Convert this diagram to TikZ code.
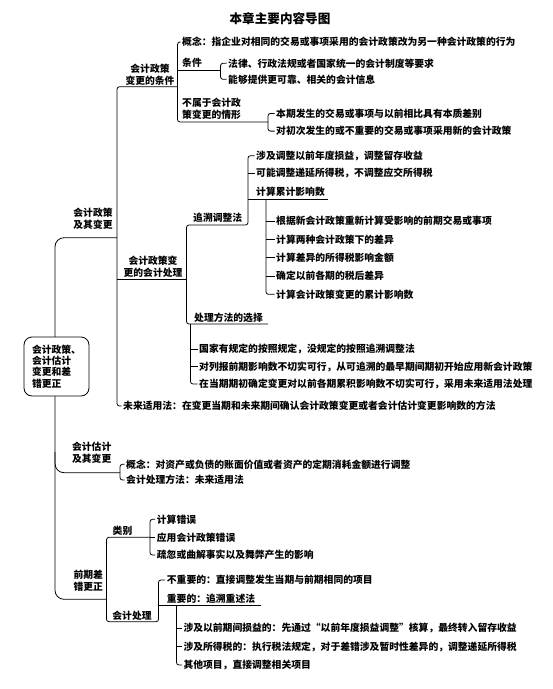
\documentclass[tikz,border=0pt]{standalone}
\usepackage{fontspec}
\setmainfont{Noto Sans CJK SC}
\begin{document}
\begin{tikzpicture}[x=1pt,y=-1pt,
  ln/.style={line width=0.8pt, rounded corners=2.5pt},
  bigln/.style={line width=0.8pt, rounded corners=9pt},
  txt/.style={anchor=west, inner sep=0pt, font=\fontsize{9.8}{12}\selectfont\bfseries},
  ctr/.style={align=center, inner sep=0pt, font=\fontsize{9.8}{12}\selectfont\bfseries},
  lft/.style={align=left, anchor=west, inner sep=0pt, font=\fontsize{9.8}{12}\selectfont\bfseries},
  ttl/.style={inner sep=0pt, font=\fontsize{12.6}{14}\selectfont\bfseries},
  rootbox/.style={draw, line width=0.8pt, fill=white, rounded corners=8pt, align=left,
     minimum width=65pt, minimum height=59pt, inner xsep=8pt,
     font=\fontsize{9.8}{11.3}\selectfont\bfseries}]
\useasboundingbox (0,0) rectangle (553,689);

% vertical guide coordinates
\coordinate (V0) at (55,0);
\coordinate (V1) at (117,0);
\coordinate (V2) at (177.5,0);
\coordinate (V3) at (220.5,0);
\coordinate (V4) at (268,0);
\coordinate (V5) at (186.5,0);
\coordinate (V6) at (248,0);
\coordinate (V7) at (266,0);
\coordinate (V8) at (190.5,0);
\coordinate (V9) at (120,0);
\coordinate (V10) at (106.5,0);
\coordinate (V11) at (150,0);
\coordinate (V12) at (158.5,0);
\coordinate (V13) at (176.5,0);

% underline end points
\coordinate (uA1) at (117,86.7);   \coordinate (uA2) at (177.5,86.7);
\coordinate (uT1) at (177.5,70);   \coordinate (uT2) at (220.5,70);
\coordinate (uB2) at (268,122);
\coordinate (uP1) at (117,279);    \coordinate (uP2) at (186.5,279);
\coordinate (uZ1) at (186.5,225);  \coordinate (uZ2) at (248,225);
\coordinate (uJ1) at (248,199.3);  \coordinate (uJ2) at (328,199.3);
\coordinate (uC1) at (186.5,324);  \coordinate (uC2) at (268,324);
\coordinate (u11) at (55,237.7);   \coordinate (u12) at (117,237.7);
\coordinate (u2t) at (55,452);     \coordinate (u21) at (55,472.7);  \coordinate (u22) at (120,472.7);
\coordinate (u31) at (55,599.3);   \coordinate (u32) at (106.5,599.3);
\coordinate (uL1) at (106.5,537.3); \coordinate (uL2) at (150,537.3);
\coordinate (uK1) at (106.5,621.7); \coordinate (uK2) at (158.5,621.7);
\coordinate (uN1) at (158.5,605);  \coordinate (uN2) at (261,605);

% title
\node[ttl] (title) at (280,19) {本章主要内容导图};

% branch 1
\node[ctr] (a1) at (150,74.7) {会计政策\\变更的条件};
\node[txt] (gn) at (182,42) {概念：指企业对相同的交易或事项采用的会计政策改为另一种会计政策的行为};
\node[txt] (tj) at (182,63) {条件};
\node[txt] (f1) at (228,63.3) {法律、行政法规或者国家统一的会计制度等要求};
\node[txt] (f2) at (228,79.3) {能够提供更可靠、相关的会计信息};
\node[lft] (bs) at (182,109) {不属于会计政\\策变更的情形};
\node[txt] (g1) at (276,113.4) {本期发生的交易或事项与以前相比具有本质差别};
\node[txt] (g2) at (276,131.1) {对初次发生的或不重要的交易或事项采用新的会计政策};

\node[ctr] (b1) at (93,218.5) {会计政策\\及其变更};
\node[ctr] (a2) at (153,266.9) {会计政策变\\更的会计处理};
\node[txt] (zs) at (193,217.7) {追溯调整法};
\node[txt] (s1) at (256,155.7) {涉及调整以前年度损益，调整留存收益};
\node[txt] (s2) at (256,173.3) {可能调整递延所得税，不调整应交所得税};
\node[txt] (s3) at (256,191.7) {计算累计影响数};
\node[txt] (k1) at (276,221) {根据新会计政策重新计算受影响的前期交易或事项};
\node[txt] (k2) at (276,239.3) {计算两种会计政策下的差异};
\node[txt] (k3) at (276,257.3) {计算差异的所得税影响金额};
\node[txt] (k4) at (276,276) {确定以前各期的税后差异};
\node[txt] (k5) at (276,294.3) {计算会计政策变更的累计影响数};
\node[txt] (cl) at (194,318) {处理方法的选择};
\node[txt] (m1) at (199,349.3) {国家有规定的按照规定，没规定的按照追溯调整法};
\node[txt] (m2) at (199,366.7) {对列报前期影响数不切实可行，从可追溯的最早期间期初开始应用新会计政策};
\node[txt] (m3) at (199,384) {在当期期初确定变更对以前各期累积影响数不切实可行，采用未来适用法处理};
\node[txt] (w) at (123,406) {未来适用法：在变更当期和未来期间确认会计政策变更或者会计估计变更影响数的方法};

% branch 2
\node[ctr] (b2) at (91.7,452.7) {会计估计\\及其变更};
\node[txt] (c1) at (126,464.3) {概念：对资产或负债的账面价值或者资产的定期消耗金额进行调整};
\node[txt] (c2) at (126,480) {会计处理方法：未来适用法};

% branch 3
\node[ctr] (b3) at (88.3,580.4) {前期差\\错更正};
\node[ctr] (lb) at (122.5,531.2) {类别};
\node[txt] (e1) at (156.7,519.3) {计算错误};
\node[txt] (e2) at (156.7,537.3) {应用会计政策错误};
\node[txt] (e3) at (156.7,555) {疏忽或曲解事实以及舞弊产生的影响};
\node[ctr] (kc) at (132,615.5) {会计处理};
\node[txt] (n1) at (166.7,580) {不重要的：直接调整发生当期与前期相同的项目};
\node[txt] (n2) at (166.7,598.3) {重要的：追溯重述法};
\node[txt] (p1) at (183.3,628.3) {涉及以前期间损益的：先通过“以前年度损益调整”核算，最终转入留存收益};
\node[txt] (p2) at (183.3,646.7) {涉及所得税的：执行税法规定，对于差错涉及暂时性差异的，调整递延所得税};
\node[txt] (p3) at (183.3,665) {其他项目，直接调整相关项目};

% connectors
\draw[bigln] (u12) -- (u11) -- (u31) -- (u32);
\draw[bigln] (u2t) -- (u21) -- (u22);
\draw[ln] (uA2) -- (uA1) -- (V1 |- w.west) -- ([xshift=-1.5pt]w.west);
\draw[ln] (uP1) -- (uP2);
\draw[ln] ([xshift=-1.5pt]gn.west) -- (V2 |- gn.west) -- (V2 |- uB2) -- (uB2);
\draw[ln] (uT1) -- (uT2);
\draw[ln] ([xshift=-1.5pt]f1.west) -- (V3 |- f1.west) -- (V3 |- f2.west) -- ([xshift=-1.5pt]f2.west);
\draw[ln] ([xshift=-1.5pt]g1.west) -- (V4 |- g1.west) -- (V4 |- g2.west) -- ([xshift=-1.5pt]g2.west);
\draw[ln] ([xshift=-1.5pt]s1.west) -- (V6 |- s1.west) -- (uZ2) -- (uZ1) -- (uC1) -- (uC2);
\draw[ln] (V6 |- s2.west) -- ([xshift=-1.5pt]s2.west);
\draw[ln] (uJ1) -- (uJ2);
\draw[ln] (V7 |- uJ1) -- (V7 |- k5.west) -- ([xshift=-1.5pt]k5.west);
\foreach \k in {k1,k2,k3,k4} \draw[ln] (V7 |- \k.west) -- ([xshift=-1.5pt]\k.west);
\draw[ln] (V8 |- uC1) -- (V8 |- m3.west) -- ([xshift=-1.5pt]m3.west);
\foreach \k in {m1,m2} \draw[ln] (V8 |- \k.west) -- ([xshift=-1.5pt]\k.west);
\draw[ln] ([xshift=-1.5pt]c1.west) -- (V9 |- c1.west) -- (V9 |- c2.west) -- ([xshift=-1.5pt]c2.west);
\draw[ln] (uL2) -- (uL1) -- (uK1) -- (uK2) -- (V12 |- n1.west) -- ([xshift=-1.5pt]n1.west);
\draw[ln] ([xshift=-1.5pt]e1.west) -- (V11 |- e1.west) -- (V11 |- e3.west) -- ([xshift=-1.5pt]e3.west);
\draw[ln] (V11 |- e2.west) -- ([xshift=-1.5pt]e2.west);
\draw[ln] (uN1) -- (uN2);
\draw[ln] (V13 |- uN1) -- (V13 |- p3.west) -- ([xshift=-1.5pt]p3.west);
\foreach \k in {p1,p2} \draw[ln] (V13 |- \k.west) -- ([xshift=-1.5pt]\k.west);

% root box
\node[rootbox] (root) at (56.5,366.5) {会计政策、\\会计估计\\变更和差\\错更正};
\end{tikzpicture}
\end{document}
